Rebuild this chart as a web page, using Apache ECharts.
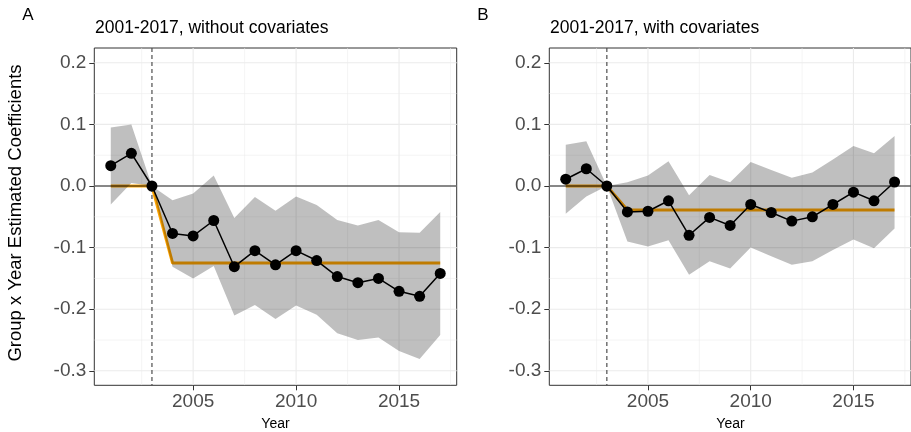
<!DOCTYPE html>
<html><head><meta charset="utf-8">
<script src="https://cdn.jsdelivr.net/npm/echarts@6/dist/echarts.min.js"></script>
<style>html,body{margin:0;padding:0;background:#fff}#c{width:911px;height:432px}</style>
</head><body><div id="c"></div>
<script>
// ---- data ----
const years = [2001,2002,2003,2004,2005,2006,2007,2008,2009,2010,2011,2012,2013,2014,2015,2016,2017];

const coefA  = [0.033, 0.053, 0, -0.077, -0.081, -0.056, -0.131, -0.105, -0.128, -0.105, -0.121, -0.147, -0.157, -0.150, -0.171, -0.179, -0.142];
const upperA = [0.095, 0.100, 0, -0.023, -0.012, 0.017, -0.052, -0.018, -0.040, -0.017, -0.031, -0.055, -0.064, -0.055, -0.075, -0.076, -0.042];
const lowerA = [-0.030, 0.005, 0, -0.131, -0.150, -0.130, -0.210, -0.193, -0.216, -0.194, -0.209, -0.239, -0.250, -0.246, -0.268, -0.281, -0.242];
const fitA   = [0, 0, 0, -0.125, -0.125, -0.125, -0.125, -0.125, -0.125, -0.125, -0.125, -0.125, -0.125, -0.125, -0.125, -0.125, -0.125];

const coefB  = [0.011, 0.028, 0, -0.042, -0.041, -0.024, -0.080, -0.051, -0.064, -0.030, -0.043, -0.057, -0.050, -0.030, -0.010, -0.024, 0.0065];
const upperB = [0.067, 0.0725, 0, 0.006, 0.017, 0.040, -0.015, 0.018, 0.006, 0.039, 0.026, 0.0135, 0.022, 0.043, 0.065, 0.053, 0.081];
const lowerB = [-0.045, -0.017, 0, -0.090, -0.098, -0.088, -0.144, -0.122, -0.134, -0.100, -0.114, -0.128, -0.122, -0.104, -0.087, -0.101, -0.069];
const fitB   = [0, 0, 0, -0.039, -0.039, -0.039, -0.039, -0.039, -0.039, -0.039, -0.039, -0.039, -0.039, -0.039, -0.039, -0.039, -0.039];

const xTicks = [2005, 2010, 2015];
const xMinor = [2002.5, 2007.5, 2012.5, 2017.5];
const yTicks = [-0.3, -0.2, -0.1, 0.0, 0.1, 0.2];
const yMinor = [-0.25, -0.15, -0.05, 0.05, 0.15];
const eventYear = [2003];
const refY = [0];

const panelTitles = ['2001-2017, without covariates', '2001-2017, with covariates'];
const panelTags = ['A', 'B'];
const xTitle = 'Year';
const yTitle = 'Group x Year Estimated Coefficients';

// ---- chart ----
const FONT = '"Liberation Sans", Arial, Helvetica, sans-serif';
const X_MIN = 2000.2, X_MAX = 2017.8, Y_MIN = -0.3235, Y_MAX = 0.224;
const chart = echarts.init(document.getElementById('c'), null, {renderer: 'canvas'});

const gridBoxes = [
  {left: 94.3, top: 48, width: 362.4, height: 337.3},
  {left: 549.3, top: 48, width: 362.4, height: 337.3}
];

function xAxisFor(i) {
  return {
    type: 'value', gridIndex: i, min: X_MIN, max: X_MAX,
    axisLine: {show: false, onZero: false},
    splitLine: {show: false},
    axisTick: {show: true, customValues: xTicks, length: 5, lineStyle: {color: '#333333', width: 1}},
    axisLabel: {customValues: xTicks, fontSize: 19, color: '#4D4D4D', margin: 7, fontFamily: FONT,
      formatter: v => String(Math.round(v))}
  };
}
function yAxisFor(i) {
  return {
    type: 'value', gridIndex: i, min: Y_MIN, max: Y_MAX,
    axisLine: {show: false, onZero: false},
    splitLine: {show: false},
    axisTick: {show: true, customValues: yTicks, length: 5, lineStyle: {color: '#333333', width: 1}},
    axisLabel: {customValues: yTicks, fontSize: 19, color: '#4D4D4D', margin: 8, fontFamily: FONT,
      formatter: v => v.toFixed(1)}
  };
}

function gridLines(i) {
  const data = [];
  xMinor.forEach(v => data.push([v, 0, 1]));
  yMinor.forEach(v => data.push([xTicks[0], v, 3]));
  xTicks.forEach(v => data.push([v, 0, 0]));
  yTicks.forEach(v => data.push([xTicks[0], v, 2]));
  return {
    type: 'custom', xAxisIndex: i, yAxisIndex: i, silent: true, z: 1, clip: true,
    data: data,
    renderItem(params, api) {
      const cs = params.coordSys;
      const kind = api.value(2);
      const w = (kind === 0 || kind === 2) ? 1.1 : 0.55;
      if (kind < 2) {
        const p = api.coord([api.value(0), 0]);
        return {type: 'line', shape: {x1: p[0], y1: cs.y, x2: p[0], y2: cs.y + cs.height},
          style: {stroke: '#EBEBEB', lineWidth: w}};
      } else {
        const p = api.coord([api.value(0), api.value(1)]);
        return {type: 'line', shape: {x1: cs.x, y1: p[1], x2: cs.x + cs.width, y2: p[1]},
          style: {stroke: '#EBEBEB', lineWidth: w}};
      }
    }
  };
}

function ribbon(i, lower, upper) {
  return {
    type: 'custom', xAxisIndex: i, yAxisIndex: i, silent: true, z: 3, clip: true,
    data: years.map((y, k) => [y, lower[k], upper[k]]),
    renderItem(params, api) {
      if (params.dataIndex !== 0) return null;
      const n = years.length;
      const pts = [];
      for (let k = 0; k < n; k++) pts.push(api.coord([api.value(0, k), api.value(2, k)]));
      for (let k = n - 1; k >= 0; k--) pts.push(api.coord([api.value(0, k), api.value(1, k)]));
      return {type: 'polygon', shape: {points: pts}, style: {fill: 'rgba(0,0,0,0.25)', stroke: null}};
    }
  };
}

function refLines(i) {
  const data = [];
  refY.forEach(v => data.push([xTicks[0], v, 0]));
  eventYear.forEach(v => data.push([v, 0, 1]));
  return {
    type: 'custom', xAxisIndex: i, yAxisIndex: i, silent: true, z: 4, clip: true,
    data: data,
    renderItem(params, api) {
      const cs = params.coordSys;
      const p = api.coord([api.value(0), api.value(1)]);
      if (api.value(2) === 0) {
        return {type: 'line', shape: {x1: cs.x, y1: p[1], x2: cs.x + cs.width, y2: p[1]},
          style: {stroke: '#1A1A1A', lineWidth: 1}};
      }
      return {type: 'line', shape: {x1: p[0], y1: cs.y, x2: p[0], y2: cs.y + cs.height},
        style: {stroke: '#4D4D4D', lineWidth: 1.2, lineDash: [4, 3]}};
    }
  };
}

function fitLine(i, fit) {
  return {
    type: 'line', xAxisIndex: i, yAxisIndex: i, z: 2, silent: true,
    data: years.map((y, k) => [y, fit[k]]),
    symbol: 'none', lineStyle: {color: '#FFA500', width: 3}, animation: false
  };
}

function coefLine(i, coef) {
  return {
    type: 'line', xAxisIndex: i, yAxisIndex: i, z: 5, silent: true,
    data: years.map((y, k) => [y, coef[k]]),
    symbol: 'circle', symbolSize: 11, showSymbol: true,
    lineStyle: {color: '#000000', width: 1.5},
    itemStyle: {color: '#000000'}, animation: false
  };
}

const graphics = [];
[0, 1].forEach(i => {
  const g = gridBoxes[i];
  graphics.push({type: 'text', x: g.left - 72, y: 15, style: {text: panelTags[i], fontSize: 17, fontFamily: FONT, fill: '#000', align: 'left', verticalAlign: 'middle'}});
  graphics.push({type: 'text', x: g.left + 0.7, y: 28.5, style: {text: panelTitles[i], fontSize: 17.5, fontFamily: FONT, fill: '#000', align: 'left', verticalAlign: 'middle'}});
  graphics.push({type: 'text', x: g.left + g.width / 2, y: 424, style: {text: xTitle, fontSize: 14, fontFamily: FONT, fill: '#000', align: 'center', verticalAlign: 'middle'}});
});
graphics.push({type: 'text', x: 16, y: 213, rotation: Math.PI / 2, style: {text: yTitle, fontSize: 18.5, fontFamily: FONT, fill: '#000', align: 'center', verticalAlign: 'middle'}});

chart.setOption({
  animation: false,
  backgroundColor: '#ffffff',
  textStyle: {fontFamily: FONT},
  grid: gridBoxes.map(g => Object.assign({show: true, borderColor: '#333333', borderWidth: 1, backgroundColor: '#ffffff', containLabel: false}, g)),
  xAxis: [xAxisFor(0), xAxisFor(1)],
  yAxis: [yAxisFor(0), yAxisFor(1)],
  graphic: graphics,
  series: [
    gridLines(0), fitLine(0, fitA), ribbon(0, lowerA, upperA), refLines(0), coefLine(0, coefA),
    gridLines(1), fitLine(1, fitB), ribbon(1, lowerB, upperB), refLines(1), coefLine(1, coefB)
  ]
});
</script>
</body></html>
